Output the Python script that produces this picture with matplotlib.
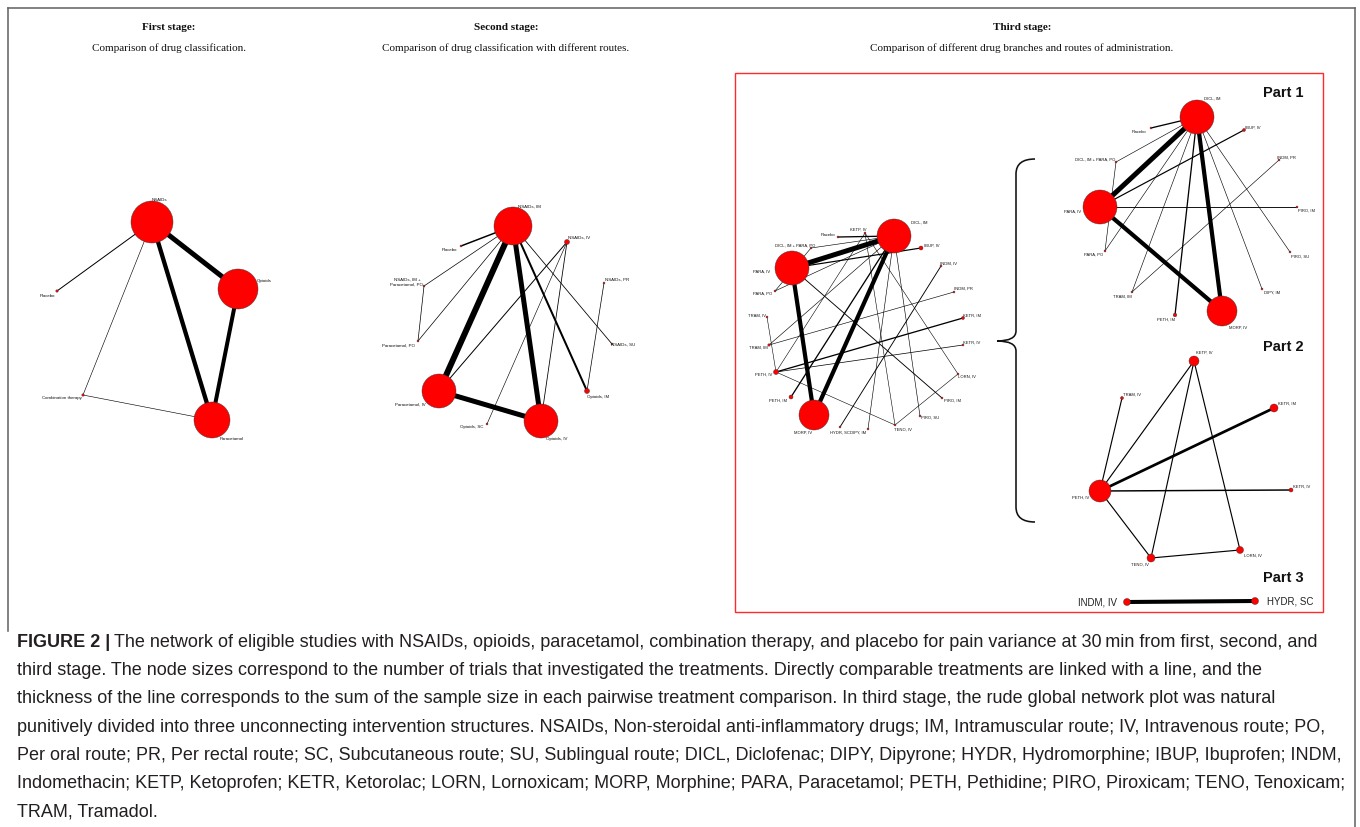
import matplotlib.pyplot as plt
from matplotlib.patches import Circle, Rectangle, PathPatch
from matplotlib.path import Path

W, H = 1360, 828
PX = 72 / 100  # points per pixel at dpi 100

plt.rcParams['font.family'] = ['Liberation Sans', 'DejaVu Sans']

# ---------------- first stage: drug classes ----------------
s1_nodes = ['NSAIDs', 'Opioids', 'Paracetamol', 'Placebo', 'Combination therapy']
s1_x = [152, 238, 212, 57, 83]
s1_y = [223, 290, 421, 292, 396]
s1_size = [21, 20, 18, 1.2, 1.2]
s1_edges = [('NSAIDs', 'Opioids', 500), ('NSAIDs', 'Paracetamol', 430),
            ('Opioids', 'Paracetamol', 400), ('NSAIDs', 'Placebo', 100),
            ('NSAIDs', 'Combination therapy', 60), ('Combination therapy', 'Paracetamol', 60)]
s1_ldx = [7, 26, 20, -10, -21]
s1_ldy = [-23, -9, 18, 4, 2]

# ---------------- second stage: classes by route ----------------
s2_nodes = ['NSAIDs, IM', 'NSAIDs, IV', 'NSAIDs, PR', 'NSAIDs, SU', 'Opioids, IM',
            'Opioids, IV', 'Opioids, SC', 'Paracetamol, IV', 'Paracetamol, PO',
            'NSAIDs, IM +\nParacetamol, PO', 'Placebo']
s2_x = [513, 567, 604, 612, 587, 541, 487, 439, 418, 424, 461]
s2_y = [227, 243, 284, 345, 392, 422, 425, 392, 342, 287, 247]
s2_size = [19, 2.5, 1, 1, 2.5, 17, 1, 17, 1, 1, 1]
s2_edges = [('NSAIDs, IM', 'Paracetamol, IV', 600), ('NSAIDs, IM', 'Opioids, IV', 500),
            ('Paracetamol, IV', 'Opioids, IV', 500), ('NSAIDs, IM', 'Opioids, IM', 200),
            ('NSAIDs, IM', 'Placebo', 150), ('NSAIDs, IM', 'NSAIDs, IM +\nParacetamol, PO', 70),
            ('NSAIDs, IM', 'Paracetamol, PO', 70),
            ('NSAIDs, IM +\nParacetamol, PO', 'Paracetamol, PO', 70),
            ('NSAIDs, IM', 'NSAIDs, SU', 80), ('NSAIDs, IV', 'Paracetamol, IV', 100),
            ('NSAIDs, IV', 'Opioids, IV', 80), ('NSAIDs, IV', 'Opioids, SC', 60),
            ('NSAIDs, PR', 'Opioids, IM', 70)]
s2_ldx = [16, 12, 13, 11, 11, 16, -15, -29, -19, -17, -12]
s2_ldy = [-20, -5, -4, 0, 5, 17, 2, 13, 4, -5, 3]

# ---------------- third stage: drugs by route (sample sizes per comparison) ----------------
s3_edges = [('DICL, IM', 'PARA, IV', 500), ('DICL, IM', 'MORP, IV', 420),
            ('PARA, IV', 'MORP, IV', 420), ('DICL, IM', 'Placebo', 130),
            ('DICL, IM', 'DICL, IM + PARA, PO', 60), ('DICL, IM', 'PARA, PO', 60),
            ('DICL, IM', 'TRAM, IM', 60), ('DICL, IM', 'PETH, IM', 130),
            ('DICL, IM', 'DIPY, IM', 60), ('DICL, IM', 'PIRO, SU', 60),
            ('PARA, IV', 'PIRO, IM', 90), ('PARA, IV', 'IBUP, IV', 120),
            ('TRAM, IM', 'INDM, PR', 60), ('DICL, IM + PARA, PO', 'PARA, PO', 60),
            ('PETH, IV', 'KETR, IM', 130), ('PETH, IV', 'KETR, IV', 70),
            ('PETH, IV', 'KETP, IV', 55), ('PETH, IV', 'TRAM, IV', 55),
            ('PETH, IV', 'TENO, IV', 55), ('KETP, IV', 'TENO, IV', 55),
            ('KETP, IV', 'LORN, IV', 55), ('TENO, IV', 'LORN, IV', 55),
            ('INDM, IV', 'HYDR, SC', 90)]

# global layout
s3_nodes = ['DICL, IM', 'PARA, IV', 'MORP, IV', 'KETP, IV', 'Placebo', 'IBUP, IV',
            'DICL, IM + PARA, PO', 'PARA, PO', 'INDM, IV', 'INDM, PR', 'KETR, IM',
            'KETR, IV', 'LORN, IV', 'PIRO, IM', 'PIRO, SU', 'TENO, IV', 'DIPY, IM',
            'HYDR, SC', 'PETH, IM', 'PETH, IV', 'TRAM, IM', 'TRAM, IV']
s3_x = [894, 792, 814, 865, 838, 921, 811, 775, 941, 954, 963, 963, 958, 942, 920,
        895, 868, 840, 791, 776, 769, 767]
s3_y = [237, 269, 416, 234, 238, 249, 249, 292, 267, 293, 319, 346, 375, 399, 417,
        426, 430, 428, 398, 373, 346, 318]
s3_size = [17, 17, 15, 1, 1, 2, 1, 1, 1, 1, 1.5, 1, 1, 1, 1, 1, 1, 1, 2, 2.5, 1.2, 1]
s3_ldx = [25, -30, -11, -7, -10, 11, -16, -12, 8, 9, 9, 9, 9, 10, 10, 8, -10, 0,
          -13, -12, -11, -10]
s3_ldy = [-14, 3, 17, -4, -3, -3, -3, 2, -3, -4, -3, -3, 2, 2, 1, 4, 3, 5, 3, 2, 2, -2]

# part 1
p1_nodes = ['DICL, IM', 'PARA, IV', 'MORP, IV', 'Placebo', 'IBUP, IV', 'INDM, PR',
            'DICL, IM + PARA, PO', 'PIRO, IM', 'PARA, PO', 'PIRO, SU', 'TRAM, IM',
            'DIPY, IM', 'PETH, IM']
p1_x = [1197, 1100, 1222, 1151, 1244, 1279, 1116, 1297, 1105, 1290, 1132, 1262, 1175]
p1_y = [118, 208, 312, 129, 131, 161, 163, 208, 252, 253, 293, 290, 316]
p1_size = [17, 17, 15, 1, 1.5, 1, 1, 1, 1, 1, 1, 1, 1.8]
p1_ldx = [15, -27, 16, -12, 9, 7, -21, 9, -11, 10, -10, 10, -9]
p1_ldy = [-19, 4, 16, 3, -3, -3, -3, 3, 3, 4, 4, 3, 4]

# part 2
p2_nodes = ['PETH, IV', 'KETP, IV', 'TRAM, IV', 'KETR, IM', 'KETR, IV', 'TENO, IV', 'LORN, IV']
p2_x = [1100, 1194, 1122, 1274, 1291, 1151, 1240]
p2_y = [492, 362, 399, 409, 491, 559, 551]
p2_size = [11, 5, 1.5, 4, 2, 4, 3.5]
p2_ldx = [-19, 10, 10, 13, 11, -11, 13]
p2_ldy = [6, -9, -4, -5, -4, 6, 5]

# part 3
p3_nodes = ['INDM, IV', 'HYDR, SC']
p3_x = [1127, 1255]
p3_y = [603, 602]
p3_size = [3.5, 3.5]

stage_titles = ['First stage:', 'Second stage:', 'Third stage:']
stage_subtitles = ['Comparison of drug classification.',
                   'Comparison of drug classification with different routes.',
                   'Comparison of different drug branches and routes of administration.']
stage_cx = [169, 506, 1022]

caption = [
    'The network of eligible studies with NSAIDs, opioids, paracetamol, combination therapy, and placebo for pain variance at 30\u2009min from first, second, and',
    'third stage. The node sizes correspond to the number of trials that investigated the treatments. Directly comparable treatments are linked with a line, and the',
    'thickness of the line corresponds to the sum of the sample size in each pairwise treatment comparison. In third stage, the rude global network plot was natural',
    'punitively divided into three unconnecting intervention structures. NSAIDs, Non-steroidal anti-inflammatory drugs; IM, Intramuscular route; IV, Intravenous route; PO,',
    'Per oral route; PR, Per rectal route; SC, Subcutaneous route; SU, Sublingual route; DICL, Diclofenac; DIPY, Dipyrone; HYDR, Hydromorphine; IBUP, Ibuprofen; INDM,',
    'Indomethacin; KETP, Ketoprofen; KETR, Ketorolac; LORN, Lornoxicam; MORP, Morphine; PARA, Paracetamol; PETH, Pethidine; PIRO, Piroxicam; TENO, Tenoxicam;',
    'TRAM, Tramadol.',
]

fig = plt.figure(figsize=(W / 100, H / 100), dpi=100)
ax = fig.add_axes([0, 0, 1, 1])
ax.set_xlim(0, W)
ax.set_ylim(H, 0)
ax.axis('off')


def draw_network(names, xs, ys, sizes, edges, ldx=None, ldy=None, scale=0.01, fs=3.2):
    pos = {n: (x, y) for n, x, y in zip(names, xs, ys)}
    for a, b, n in edges:
        if a not in pos or b not in pos:
            continue
        (x0, y0), (x1, y1) = pos[a], pos[b]
        ax.plot([x0, x1], [y0, y1], color='black', lw=n * scale * PX,
                solid_capstyle='butt', zorder=2)
    for i, (name, x, y, r) in enumerate(zip(names, xs, ys, sizes)):
        ax.add_patch(Circle((x, y), r, fc='#ff0000', ec='#333333', lw=0.3, zorder=3))
        if ldx is not None:
            ax.text(x + ldx[i], y + ldy[i], name, fontsize=fs, ha='center', va='center',
                    color='#111111', zorder=4, linespacing=1.1)


draw_network(s1_nodes, s1_x, s1_y, s1_size, s1_edges, s1_ldx, s1_ldy)
draw_network(s2_nodes, s2_x, s2_y, s2_size, s2_edges, s2_ldx, s2_ldy)
draw_network(s3_nodes, s3_x, s3_y, s3_size, s3_edges, s3_ldx, s3_ldy, fs=3.0)
draw_network(p1_nodes, p1_x, p1_y, p1_size, s3_edges, p1_ldx, p1_ldy, fs=3.0)
draw_network(p2_nodes, p2_x, p2_y, p2_size, s3_edges, p2_ldx, p2_ldy, scale=0.021, fs=3.0)
draw_network(p3_nodes, p3_x, p3_y, p3_size, s3_edges, scale=0.045)
ax.text(p3_x[0] - 10, p3_y[0], p3_nodes[0], fontsize=7, ha='right', va='center', color='#222222')
ax.text(p3_x[1] + 12, p3_y[1], p3_nodes[1], fontsize=7, ha='left', va='center', color='#222222')

for lbl, yy in zip(['Part 1', 'Part 2', 'Part 3'], [93, 347, 578]):
    ax.text(1283, yy, lbl, fontsize=10.5, fontweight='bold', ha='center', va='center',
            color='#111111')

# stage headers
for t, s, cx in zip(stage_titles, stage_subtitles, stage_cx):
    ax.text(cx, 28, t, fontsize=8, fontweight='bold', ha='center', va='center',
            family='Liberation Serif', color='#111111')
    ax.text(cx, 48, s, fontsize=8, ha='center', va='center',
            family='Liberation Serif', color='#111111')

# red frame round the third stage
ax.add_patch(Rectangle((735, 74), 1323 - 735, 613 - 74, fill=False,
                       ec='#ff2a2a', lw=1.4 * PX, zorder=1))

# curly brace linking the global network to its parts
verts = [(1035, 160), (1016, 160), (1016, 175), (1016, 332), (1016, 342), (997, 342),
         (1016, 342), (1016, 352), (1016, 508), (1016, 523), (1035, 523)]
codes = [Path.MOVETO, Path.CURVE3, Path.CURVE3, Path.LINETO, Path.CURVE3, Path.CURVE3,
         Path.CURVE3, Path.CURVE3, Path.LINETO, Path.CURVE3, Path.CURVE3]
ax.add_patch(PathPatch(Path(verts, codes), fill=False, ec='#111111', lw=1.6 * PX))

# outer frame
ax.plot([8, 1355], [9, 9], color='#666666', lw=1.6 * PX)
ax.plot([8, 8], [9, 632], color='#666666', lw=1.6 * PX)
ax.plot([1355, 1355], [9, 828], color='#666666', lw=1.6 * PX)

# caption
cap_y = [643, 671, 699, 728, 756, 784, 812]
renderer = fig.canvas.get_renderer()
probe = ax.text(17, cap_y[4], caption[4], fontsize=12, ha='left', va='center', color='#231f20')
cap_fs = 12 * 1330 / probe.get_window_extent(renderer).width
probe.remove()

head = ax.text(17, cap_y[0], 'FIGURE 2 |', fontsize=cap_fs, fontweight='bold',
               ha='left', va='center', color='#231f20')
hb = head.get_window_extent(renderer)
x_after = ax.transData.inverted().transform((hb.x1, 0))[0] + 4
ax.text(x_after, cap_y[0], caption[0], fontsize=cap_fs, ha='left', va='center', color='#231f20')
for line, yy in zip(caption[1:], cap_y[1:]):
    ax.text(17, yy, line, fontsize=cap_fs, ha='left', va='center', color='#231f20')

fig.savefig('out.png', dpi=100)
